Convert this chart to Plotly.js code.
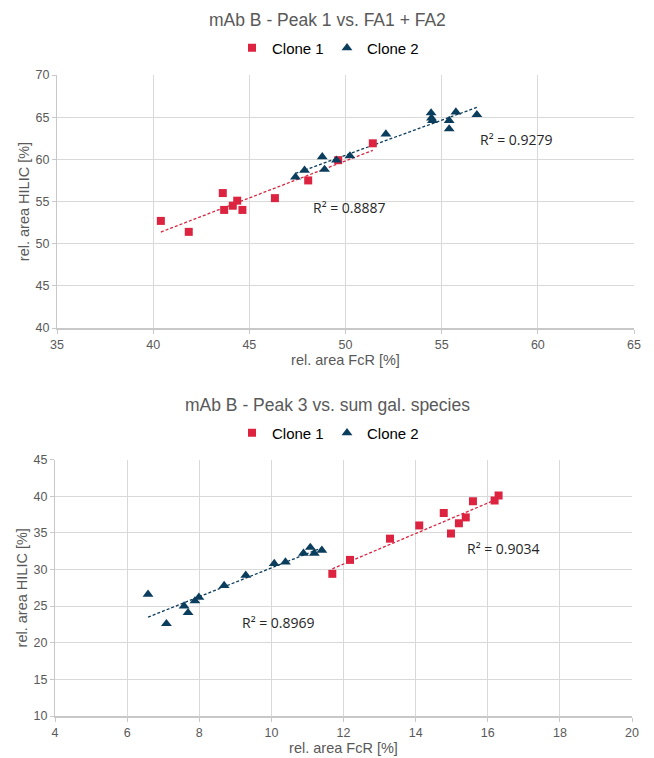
<!DOCTYPE html>
<html>
<head>
<meta charset="utf-8">
<script src="https://cdn.plot.ly/plotly-3.0.1.min.js"></script>
<style>
html,body{margin:0;padding:0;background:#fff;}
#chart{width:654px;height:758px;}
</style>
</head>
<body>
<div id="chart"></div>
<script>
// ---- Data ----
const seriesNames = ["Clone 1", "Clone 2"];

// Chart 1: mAb B - Peak 1 vs. FA1 + FA2
const topClone1X = [40.40, 41.85, 43.62, 43.69, 44.14, 44.37, 44.64, 46.33, 48.06, 49.62, 51.42];
const topClone1Y = [52.7, 51.4, 56.0, 54.0, 54.5, 55.1, 54.0, 55.4, 57.5, 59.9, 61.9];
const topClone2X = [47.40, 47.87, 48.79, 48.91, 49.53, 50.23, 52.10, 54.45, 54.47, 54.52, 55.39, 55.39, 55.74, 56.83];
const topClone2Y = [57.9, 58.7, 60.3, 58.8, 59.9, 60.4, 63.0, 65.5, 64.9, 64.6, 64.6, 63.6, 65.6, 65.3];
const topR2Labels = ["R² = 0.8887", "R² = 0.9279"];

// Chart 2: mAb B - Peak 3 vs. sum gal. species
const botClone1X = [11.69, 12.18, 13.29, 14.10, 14.78, 14.98, 15.20, 15.39, 15.59, 16.19, 16.30];
const botClone1Y = [29.4, 31.3, 34.2, 36.0, 37.7, 34.9, 36.3, 37.1, 39.3, 39.4, 40.1];
const botClone2X = [6.58, 7.09, 7.58, 7.69, 7.88, 7.99, 8.69, 9.29, 10.08, 10.39, 10.89, 11.08, 11.19, 11.40];
const botClone2Y = [26.6, 22.6, 25.0, 24.1, 25.7, 26.2, 27.8, 29.2, 30.8, 31.0, 32.2, 33.0, 32.2, 32.6];
const botR2Labels = ["R² = 0.9034", "R² = 0.8969"];

const titles = ["mAb B - Peak 1 vs. FA1 + FA2", "mAb B - Peak 3 vs. sum gal. species"];
const xTitle = "rel. area FcR [%]";
const yTitle = "rel. area HILIC [%]";

// ---- Styling ----
const RED = "#DC2440";
const BLUE = "#0B3D5C";
const GRID = "#D9D9D9";
const AXIS = "#C8C8C8";
const GREY = "#595959";
const FONT = "Liberation Sans, Arial, sans-serif";
const RFONT = {family: "Open Sans, sans-serif", size: 14, color: "#262626"};

function fit(xs, ys) {
  const n = xs.length;
  let sx = 0, sy = 0, sxx = 0, sxy = 0;
  for (let i = 0; i < n; i++) { sx += xs[i]; sy += ys[i]; sxx += xs[i]*xs[i]; sxy += xs[i]*ys[i]; }
  const m = (n*sxy - sx*sy) / (n*sxx - sx*sx);
  const b = (sy - m*sx) / n;
  const x0 = Math.min(...xs), x1 = Math.max(...xs);
  return {x: [x0, x1], y: [m*x0 + b, m*x1 + b]};
}

function markerTrace(xs, ys, name, color, symbol, xa, ya, legend) {
  return {
    type: "scatter", mode: "markers", x: xs, y: ys, name: name,
    xaxis: xa, yaxis: ya, legend: legend,
    marker: {color: color, symbol: symbol, size: symbol === "square" ? 8 : 9.5, line: {width: 0}},
    hoverinfo: "x+y"
  };
}
function trendTrace(xs, ys, color, xa, ya) {
  const f = fit(xs, ys);
  return {
    type: "scatter", mode: "lines", x: f.x, y: f.y, showlegend: false,
    xaxis: xa, yaxis: ya,
    line: {color: color, width: 1.3, dash: "3px,2px"}, hoverinfo: "skip"
  };
}

const traces = [
  trendTrace(topClone1X, topClone1Y, RED, "x", "y"),
  trendTrace(topClone2X, topClone2Y, BLUE, "x", "y"),
  markerTrace(topClone1X, topClone1Y, seriesNames[0], RED, "square", "x", "y", "legend"),
  markerTrace(topClone2X, topClone2Y, seriesNames[1], BLUE, "triangle-up", "x", "y", "legend"),
  trendTrace(botClone1X, botClone1Y, RED, "x2", "y2"),
  trendTrace(botClone2X, botClone2Y, BLUE, "x2", "y2"),
  markerTrace(botClone1X, botClone1Y, seriesNames[0], RED, "square", "x2", "y2", "legend2"),
  markerTrace(botClone2X, botClone2Y, seriesNames[1], BLUE, "triangle-up", "x2", "y2", "legend2")
];

const W = 654, H = 758;
const px = v => v / W;
const py = v => 1 - v / H;

function xAxis(domain, range, dtick, anchor) {
  return {
    domain: domain, range: range, dtick: dtick, tick0: range[0], anchor: anchor,
    showgrid: true, gridcolor: GRID, gridwidth: 1,
    showline: true, linecolor: AXIS, linewidth: 1.5,
    ticks: "outside", ticklen: 4, tickcolor: AXIS,
    zeroline: false, tickfont: {family: FONT, size: 12.5, color: GREY},
    title: {text: xTitle, font: {family: FONT, size: 14.5, color: GREY}, standoff: 4},
    fixedrange: true
  };
}
function yAxis(domain, range, dtick, anchor) {
  return {
    domain: domain, range: range, dtick: dtick, tick0: range[0], anchor: anchor,
    showgrid: true, gridcolor: GRID, gridwidth: 1,
    showline: true, linecolor: AXIS, linewidth: 1,
    ticks: "outside", ticklen: 4, tickcolor: AXIS,
    zeroline: false, tickfont: {family: FONT, size: 12.5, color: GREY},
    title: {text: yTitle, font: {family: FONT, size: 14.5, color: GREY}, standoff: 2},
    fixedrange: true
  };
}

function legendCfg(yPix) {
  return {
    orientation: "h", x: 0.5, xanchor: "center", y: py(yPix), yanchor: "middle",
    font: {family: FONT, size: 15, color: "#000"}, itemwidth: 30, tracegroupgap: 0,
    entrywidthmode: "pixels", entrywidth: 50,
    bgcolor: "rgba(0,0,0,0)"
  };
}

const layout = {
  width: W, height: H,
  margin: {l: 0, r: 0, t: 0, b: 0},
  paper_bgcolor: "#ffffff", plot_bgcolor: "#ffffff",
  font: {family: FONT},
  showlegend: true,
  xaxis: xAxis([px(57), px(634)], [35, 65], 5, "y"),
  yaxis: yAxis([py(328), py(75)], [40, 70], 5, "x"),
  xaxis2: xAxis([px(55), px(632)], [4, 20], 2, "y2"),
  yaxis2: yAxis([py(716), py(459.5)], [10, 45], 5, "x2"),
  legend: legendCfg(48),
  legend2: legendCfg(433),
  annotations: [
    {text: titles[0], xref: "paper", yref: "paper", x: 0.5, y: py(20), xanchor: "center", yanchor: "middle",
     showarrow: false, font: {family: FONT, size: 17.5, color: GREY}},
    {text: titles[1], xref: "paper", yref: "paper", x: 0.5, y: py(405), xanchor: "center", yanchor: "middle",
     showarrow: false, font: {family: FONT, size: 17.5, color: GREY}},
    {text: topR2Labels[0], xref: "x", yref: "y", x: 50.23, y: 54.3, showarrow: false, font: RFONT},
    {text: topR2Labels[1], xref: "x", yref: "y", x: 58.9, y: 62.35, showarrow: false, font: RFONT},
    {text: botR2Labels[0], xref: "x2", yref: "y2", x: 16.45, y: 32.8, showarrow: false, font: RFONT},
    {text: botR2Labels[1], xref: "x2", yref: "y2", x: 10.19, y: 22.8, showarrow: false, font: RFONT}
  ]
};

Plotly.newPlot("chart", traces, layout, {staticPlot: true, displayModeBar: false});
</script>
</body>
</html>
